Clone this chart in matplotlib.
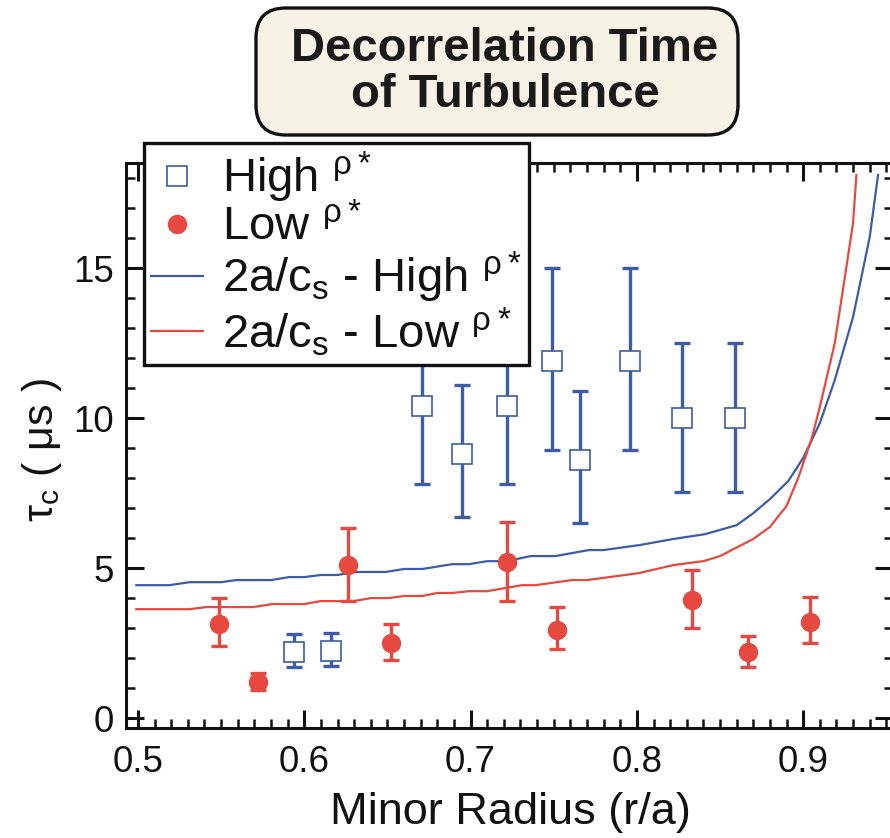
import matplotlib
matplotlib.use("Agg")
import matplotlib.pyplot as plt
import matplotlib.patches as patches
import numpy as np

plt.rcParams["font.family"] = ["Liberation Sans", "DejaVu Sans"]
plt.rcParams["mathtext.fontset"] = "custom"
plt.rcParams["mathtext.rm"] = "Liberation Sans"
plt.rcParams["mathtext.default"] = "regular"

BLUE = "#3d5ca8"
RED = "#e5493f"

# --- data ------------------------------------------------------------------
# high rho* measurements (open squares)
r_high = [0.594, 0.616, 0.671, 0.695, 0.722, 0.749, 0.766, 0.796, 0.827, 0.859]
tau_high = [2.2, 2.25, 10.4, 8.8, 10.4, 11.9, 8.6, 11.9, 10.0, 10.0]
tau_high_up = [2.8, 2.85, 13.0, 11.1, 13.0, 15.0, 10.9, 15.0, 12.5, 12.5]
tau_high_lo = [1.7, 1.75, 7.8, 6.7, 7.8, 8.95, 6.5, 8.95, 7.55, 7.55]

# low rho* measurements (filled circles)
r_low = [0.549, 0.572, 0.626, 0.652, 0.722, 0.752, 0.833, 0.867, 0.904]
tau_low = [3.15, 1.2, 5.1, 2.5, 5.2, 2.95, 3.95, 2.2, 3.2]
tau_low_up = [4.0, 1.5, 6.35, 3.15, 6.55, 3.7, 4.95, 2.75, 4.05]
tau_low_lo = [2.4, 0.95, 3.9, 1.95, 3.9, 2.3, 3.0, 1.7, 2.5]

# 2a/c_s curves
cs_r_high = [0.499, 0.519, 0.531, 0.550, 0.559, 0.580, 0.591, 0.600, 0.610,
             0.620, 0.630, 0.649, 0.660, 0.671, 0.689, 0.699, 0.710, 0.722,
             0.736, 0.751, 0.771, 0.780, 0.802, 0.822, 0.841, 0.860, 0.870,
             0.880, 0.891, 0.900, 0.910, 0.919, 0.930, 0.940, 0.945]
cs_high = [4.43, 4.43, 4.53, 4.53, 4.6, 4.6, 4.7, 4.7, 4.77,
           4.77, 4.87, 4.87, 4.97, 4.97, 5.13, 5.13, 5.23, 5.23,
           5.4, 5.4, 5.6, 5.6, 5.77, 5.97, 6.13, 6.43, 6.83,
           7.3, 7.9, 8.67, 9.83, 11.27, 13.37, 16.03, 18.1]

cs_r_low = [0.499, 0.531, 0.541, 0.569, 0.581, 0.600, 0.610, 0.630, 0.640,
            0.651, 0.660, 0.671, 0.680, 0.689, 0.699, 0.710, 0.731, 0.739,
            0.761, 0.770, 0.801, 0.822, 0.840, 0.850, 0.870, 0.880, 0.890,
            0.897, 0.905, 0.910, 0.919, 0.930, 0.932]
cs_low = [3.63, 3.63, 3.7, 3.7, 3.8, 3.8, 3.9, 3.9, 4.0,
          4.0, 4.07, 4.07, 4.17, 4.17, 4.23, 4.23, 4.43, 4.43,
          4.6, 4.6, 4.83, 5.1, 5.23, 5.4, 5.97, 6.37, 7.07,
          8.0, 9.3, 10.37, 12.5, 16.5, 18.1]

legend_labels = ["High $^{ρ*}$", "Low $^{ρ*}$",
                 "2a/c$_s$ - High $^{ρ*}$", "2a/c$_s$ - Low $^{ρ*}$"]


def yerr(center, up, lo):
    c = np.asarray(center)
    return [c - np.asarray(lo), np.asarray(up) - c]


fig = plt.figure(figsize=(8.9, 8.38), dpi=100)
W, H = 890, 838
ax = fig.add_axes([126 / W, 1 - 728 / H, (893 - 126) / W, (728 - 163) / H])

ax.plot(cs_r_high, cs_high, color=BLUE, lw=1.6, zorder=2)
ax.plot(cs_r_low, cs_low, color=RED, lw=1.6, zorder=2)

ax.errorbar(r_high, tau_high, yerr=yerr(tau_high, tau_high_up, tau_high_lo),
            fmt="none", ecolor=BLUE, elinewidth=2.4, capsize=6, capthick=2.4,
            zorder=3)
ax.errorbar(r_low, tau_low, yerr=yerr(tau_low, tau_low_up, tau_low_lo),
            fmt="none", ecolor=RED, elinewidth=2.4, capsize=6, capthick=2.4,
            zorder=3)

h_high, = ax.plot(r_high, tau_high, ls="none", marker="s", ms=14,
                  mfc="white", mec=BLUE, mew=1.2, zorder=4)
h_low, = ax.plot(r_low, tau_low, ls="none", marker="o", ms=13,
                 mfc=RED, mec=RED, zorder=4)
h_cs_high, = ax.plot([], [], color=BLUE, lw=1.6)
h_cs_low, = ax.plot([], [], color=RED, lw=1.6)

ax.set_xlim(0.4928, 0.954)
ax.set_ylim(-0.33, 18.5)
ax.set_xticks([0.5, 0.6, 0.7, 0.8, 0.9])
ax.set_xticklabels(["0.5", "0.6", "0.7", "0.8", "0.9"])
ax.set_xticks(np.arange(0.50, 0.955, 0.01), minor=True)
ax.set_yticks([0, 5, 10, 15])
ax.set_yticks(np.arange(0, 19, 1), minor=True)

for s in ax.spines.values():
    s.set_linewidth(2.2)
    s.set_color("#111111")
ax.tick_params(which="both", direction="in", top=True, right=True,
               color="#111111", labelsize=26.5, labelcolor="#111111")
ax.tick_params(which="major", length=13, width=2.2)
ax.tick_params(which="minor", length=6.5, width=1.8)
ax.tick_params(axis="x", pad=12)
ax.tick_params(axis="y", pad=9)

# axis labels placed in figure pixels
fig.text(510 / W, 1 - 824 / H, "Minor Radius (r/a)", ha="center",
         va="baseline", fontsize=32.5, color="#111111")
fig.text(42 / W, 1 - 450 / H, "τ$_c$ ( μs )", rotation=90, ha="center",
         va="center", fontsize=31, color="#111111")

leg = ax.legend([h_high, h_low, h_cs_high, h_cs_low], legend_labels,
                loc="upper left", bbox_to_anchor=(144 / W, 1 - 143 / H),
                bbox_transform=fig.transFigure, borderaxespad=0,
                fontsize=34, fancybox=False, framealpha=1,
                edgecolor="#111111", handlelength=1.1, handletextpad=0.4,
                borderpad=0.15, labelspacing=0.0)
leg.get_frame().set_linewidth(2.4)
leg.set_zorder(10)
for t in leg.get_texts():
    t.set_color("#111111")

# title box drawn in pixel space over the whole figure
over = fig.add_axes([0, 0, 1, 1], facecolor="none")
over.set_xlim(0, W)
over.set_ylim(H, 0)
over.axis("off")
box = patches.FancyBboxPatch((256, 8), 482, 127,
                             boxstyle="round,pad=0,rounding_size=30",
                             facecolor="#f7f2e6", edgecolor="#111111",
                             linewidth=2.4)
over.add_patch(box)
over.text(505, 72, "Decorrelation Time\nof Turbulence", ha="center",
          va="center", fontsize=34, fontweight="bold", linespacing=1.05,
          color="#1a1a1a")

fig.savefig("out.png", dpi=100)
